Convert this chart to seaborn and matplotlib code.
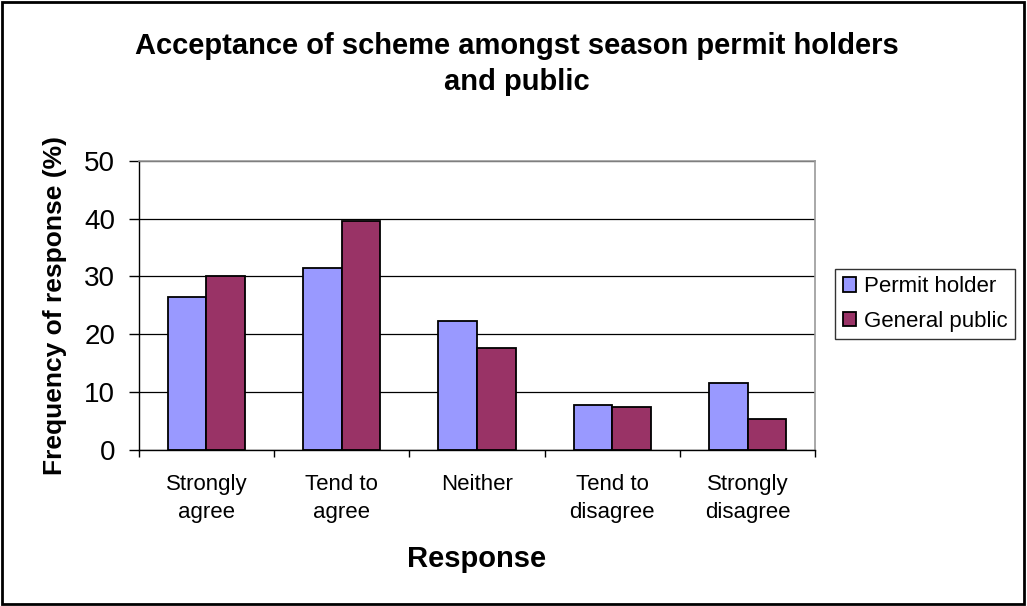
import matplotlib
matplotlib.use("Agg")
import matplotlib.pyplot as plt
import seaborn as sns
import pandas as pd
from matplotlib.patches import Rectangle

categories = ["Strongly\nagree", "Tend to\nagree", "Neither", "Tend to\ndisagree", "Strongly\ndisagree"]
permit_holder = [26.4, 31.5, 22.3, 7.8, 11.6]
general_public = [30.1, 39.6, 17.6, 7.5, 5.4]
series_names = ["Permit holder", "General public"]
colors = ["#9999FF", "#993366"]

df = pd.DataFrame({
    "Response": categories * 2,
    "Value": permit_holder + general_public,
    "Series": [series_names[0]] * 5 + [series_names[1]] * 5,
})

sns.set_style("white")
plt.rcParams["font.family"] = ["Liberation Sans", "DejaVu Sans"]
plt.rcParams["text.color"] = "black"
plt.rcParams["axes.labelcolor"] = "black"
plt.rcParams["xtick.color"] = "black"
plt.rcParams["ytick.color"] = "black"

fig = plt.figure(figsize=(10.27, 6.06), dpi=100)
ax = fig.add_axes([138.7 / 1027, 1 - 450 / 606, (815.3 - 138.7) / 1027, (450 - 160.7) / 606])

sns.barplot(data=df, x="Response", y="Value", hue="Series", palette=colors,
            width=0.57, edgecolor="black", linewidth=1.3, ax=ax, saturation=1)

ax.set_ylim(0, 50)
ax.set_xlim(-0.5, 4.5)
ax.set_yticks([0, 10, 20, 30, 40, 50])
ax.yaxis.grid(True, color="#000000", linewidth=0.9)
ax.set_axisbelow(True)
for s in ["top", "right"]:
    ax.spines[s].set_color("#999999")
    ax.spines[s].set_linewidth(1.2)
for s in ["left", "bottom"]:
    ax.spines[s].set_color("black")
    ax.spines[s].set_linewidth(1.0)

ax.tick_params(axis="y", which="major", direction="out", length=7, width=1, labelsize=20, left=True, pad=10)
ax.tick_params(axis="x", which="major", length=0, labelsize=16, pad=17.5)
ax.set_xticks([i - 0.5 for i in range(6)], minor=True)
ax.tick_params(axis="x", which="minor", direction="out", length=5, width=1, bottom=True)
for lbl in ax.get_xticklabels():
    lbl.set_linespacing(1.4)

ax.set_xlabel("Response", fontsize=21, fontweight="bold", labelpad=16)
ax.set_ylabel("Frequency of response (%)", fontsize=19, fontweight="bold", labelpad=12)

leg = ax.legend(loc="center left", bbox_to_anchor=(835 / 1027, 1 - 304 / 606),
                bbox_transform=fig.transFigure, frameon=True, fancybox=False,
                fontsize=16, handlelength=0.6, handleheight=0.6, handletextpad=0.35,
                borderpad=0.35, labelspacing=0.6, borderaxespad=0, title=None)
leg.get_frame().set_edgecolor("black")
leg.get_frame().set_linewidth(1.0)

fig.text(517 / 1027, 1 - 46 / 606, "Acceptance of scheme amongst season permit holders", ha="center",
         va="center", fontsize=21, fontweight="bold")
fig.text(517 / 1027, 1 - 82 / 606, "and public", ha="center", va="center", fontsize=21, fontweight="bold")

fig.patches.append(Rectangle((0.002, 0.003), 0.995, 0.994, transform=fig.transFigure,
                             fill=False, edgecolor="black", linewidth=2))

fig.savefig("out.png", dpi=100)
